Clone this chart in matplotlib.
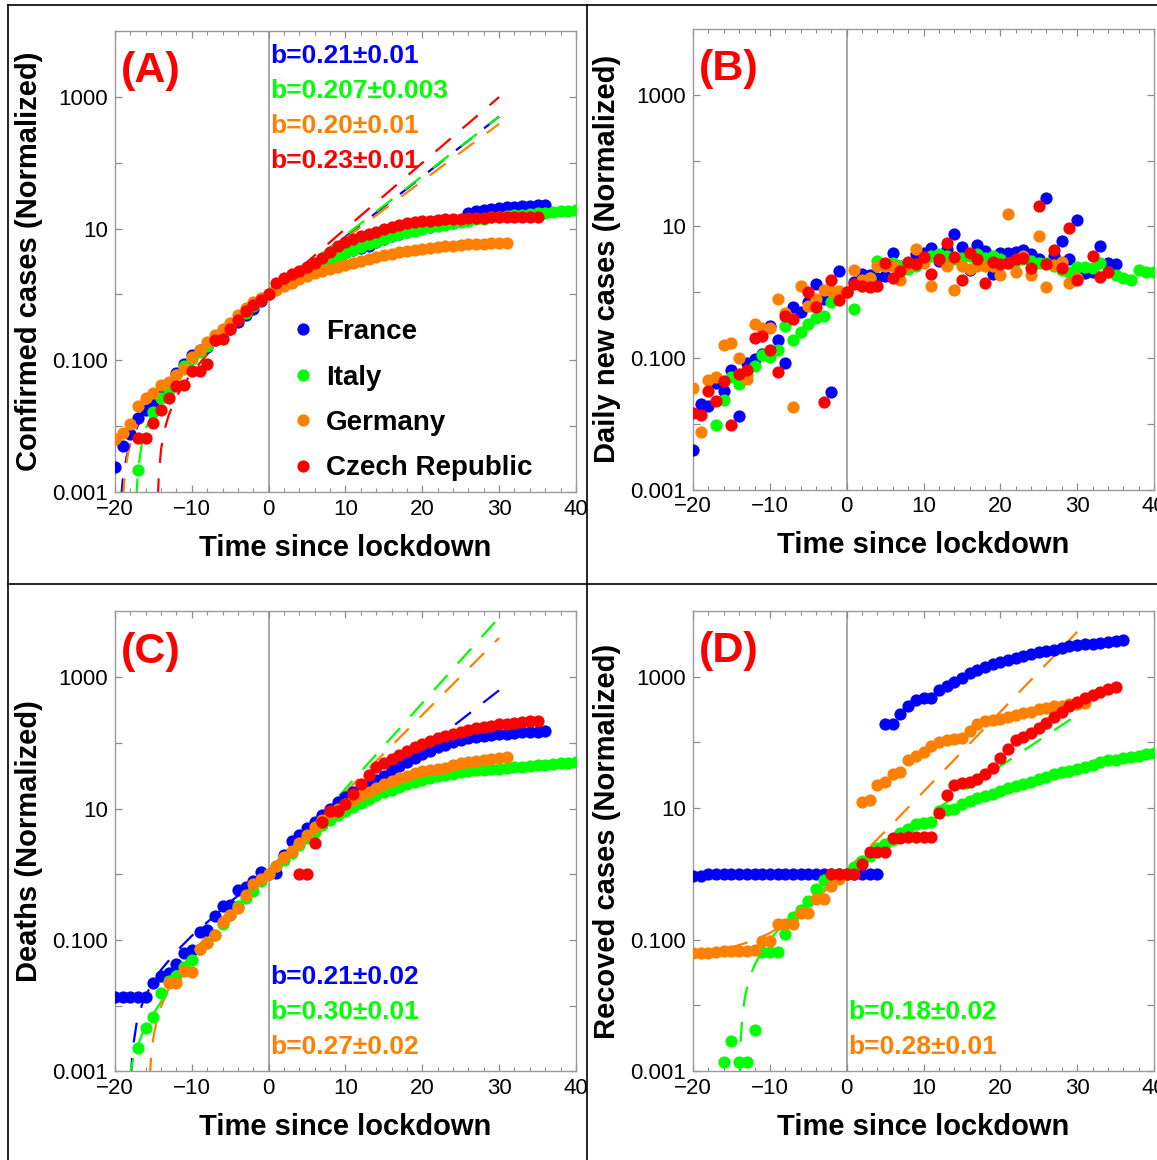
import numpy as np
import matplotlib
matplotlib.use("Agg")
import matplotlib.pyplot as plt
from matplotlib.lines import Line2D
from matplotlib.ticker import NullLocator, MultipleLocator

plt.rcParams['font.family'] = ['Liberation Sans', 'DejaVu Sans']

COUNTRIES = ["France", "Italy", "Germany", "Czech Republic"]
COLORS = {"France": "#0000ff", "Italy": "#00ff00", "Germany": "#ff8000", "Czech Republic": "#ff0000"}
DOT = 8.8

# All series: first day since lockdown, then log10 of the normalized value for each following day
# (nan = no point drawn that day)
nan = np.nan

# (A) confirmed cases
conf_fr_start, conf_fr = -20, [-2.62, -2.30, -2.12, -1.88, -1.76, -1.63, -1.51, -1.38, -1.20, -1.05,
                               -0.92, -0.85, -0.80, -0.70, -0.60, -0.53, -0.42, -0.32, -0.22, -0.10,
                               0.00, 0.10, 0.17, 0.24, 0.30, 0.36, 0.42, 0.48, 0.53, 0.58,
                               0.63, 0.67, 0.70, 0.74, 0.80, 0.84, 0.88, 0.92, 0.95, 0.98,
                               1.01, 1.03, 1.05, 1.07, 1.09, 1.12, 1.24, 1.26, 1.28, 1.30,
                               1.31, 1.32, 1.33, 1.34, 1.345, 1.35, 1.35]
conf_it_start, conf_it = -17, [-2.66, nan, -1.78, -1.58, -1.45, -1.22, -1.08, -0.98, -0.88, -0.78,
                               -0.68, -0.58, -0.49, -0.38, -0.28, -0.18, -0.09, 0.00, 0.10, 0.17,
                               0.23, 0.29, 0.35, 0.41, 0.47, 0.53, 0.58, 0.63, 0.68, 0.72,
                               0.76, 0.80, 0.84, 0.88, 0.91, 0.94, 0.97, 1.00, 1.02, 1.04,
                               1.06, 1.08, 1.10, 1.12, 1.14, 1.15, 1.17, 1.18, 1.19, 1.20,
                               1.21, 1.22, 1.23, 1.24, 1.25, 1.26, 1.27, 1.28]
conf_de_start, conf_de = -20, [-2.19, -2.10, -1.97, -1.70, -1.57, -1.49, -1.38, -1.33, -1.22, -1.13,
                               -0.95, -0.84, -0.73, -0.62, -0.53, -0.43, -0.31, -0.20, -0.11, -0.05,
                               0.00, 0.07, 0.13, 0.18, 0.23, 0.28, 0.32, 0.36, 0.39, 0.42,
                               0.45, 0.48, 0.51, 0.54, 0.57, 0.60, 0.62, 0.64, 0.66, 0.68,
                               0.69, 0.71, 0.72, 0.73, 0.74, 0.75, 0.76, 0.765, 0.77, 0.775,
                               0.78, 0.78]
conf_cz_start, conf_cz = -17, [-2.18, -2.18, -1.96, -1.76, -1.58, -1.39, -1.38, -1.17, -1.17, -1.05,
                               -0.70, -0.68, -0.52, -0.39, -0.25, -0.16, -0.08, 0.00, 0.17, 0.25,
                               0.31, 0.36, 0.42, 0.48, 0.56, 0.64, 0.74, 0.80, 0.84, 0.89,
                               0.92, 0.95, 1.00, 1.03, 1.06, 1.08, 1.10, 1.11, 1.12, 1.13,
                               1.14, 1.145, 1.15, 1.155, 1.16, 1.165, 1.17, 1.17, 1.175, 1.175,
                               1.18, 1.18, 1.18]

# (B) daily new cases
daily_fr_start, daily_fr = -20, [-2.40, -1.70, -1.73, -1.38, -1.50, -1.19, -1.88, -1.08, -1.02, -0.94,
                                 -0.52, -0.73, -1.08, -0.22, -0.30, -0.15, 0.13, -0.10, -1.52, 0.32,
                                 0.00, 0.16, 0.28, 0.26, 0.22, 0.25, 0.59, 0.40, 0.45, 0.58,
                                 0.60, 0.67, 0.48, 0.65, 0.88, 0.68, 0.33, 0.72, 0.62, 0.28,
                                 0.59, 0.60, 0.61, 0.64, 0.58, 0.51, 1.43, 0.55, 0.77, 0.50,
                                 1.09, 0.29, 0.30, 0.70, 0.45, 0.43]
daily_it_start, daily_it = -17, [-2.02, -1.64, -1.29, -1.40, -1.26, -1.13, -0.95, -0.98, -0.88, -0.52,
                                 -0.73, -0.60, -0.48, -0.39, -0.37, -0.15, -0.05, 0.00, -0.26, 0.10,
                                 0.22, 0.48, 0.42, 0.45, 0.40, 0.35, 0.40, 0.48, 0.55, 0.58,
                                 0.55, 0.50, 0.52, 0.55, 0.58, 0.52, 0.55, 0.50, 0.45, 0.48,
                                 0.50, 0.47, 0.45, 0.45, 0.40, 0.33, 0.30, 0.38, 0.38, 0.36,
                                 0.44, 0.31, 0.26, 0.22, 0.19, 0.33, 0.31, 0.30]
daily_de_start, daily_de = -20, [-1.46, -2.12, -1.33, -1.29, -0.80, -0.78, -1.00, -1.32, -0.49, -0.54,
                                 -0.55, -0.11, -0.32, -1.75, 0.10, -0.21, -0.10, 0.03, 0.01, 0.02,
                                 0.00, 0.34, 0.19, 0.22, 0.39, 0.39, 0.39, 0.19, 0.40, 0.66,
                                 0.44, 0.09, 0.50, 0.40, 0.04, 0.39, 0.35, 0.39, 0.39, 0.40,
                                 0.26, 1.19, 0.31, 0.555, 0.26, 0.85, 0.08, 0.42, 0.46, 0.14,
                                 0.22]
daily_cz_start, daily_cz = -20, [-1.84, -1.86, -1.51, -1.66, -1.35, -2.02, -1.25, -1.18, -0.70, -0.67,
                                 -0.88, -1.22, -0.36, -0.41, nan, 0.00, -0.23, -1.67, 0.19, -0.12,
                                 0.00, 0.13, 0.09, 0.08, 0.09, 0.45, 0.22, 0.32, 0.46, 0.43,
                                 0.53, 0.27, 0.50, 0.75, 0.53, 0.19, 0.60, 0.50, 0.14, 0.46,
                                 0.43, 0.44, 0.50, 0.52, 0.37, 1.31, 0.43, 0.64, 0.37, 0.97,
                                 0.18, nan, 0.55, 0.23, 0.30]

# (C) deaths
death_fr_start, death_fr = -20, [-1.86, -1.86, -1.86, -1.86, -1.86, -1.66, -1.54, -1.50, -1.36, -1.19,
                                 -1.15, -0.87, -0.85, -0.63, -0.48, -0.47, -0.24, -0.19, -0.10, 0.04,
                                 0.00, 0.02, 0.30, 0.51, 0.60, 0.70, 0.80, 0.90, 1.00, 1.10,
                                 1.18, 1.25, 1.31, 1.38, 1.44, 1.50, 1.59, 1.65, 1.71, 1.77,
                                 1.83, 1.88, 1.93, 1.97, 2.01, 2.04, 2.07, 2.09, 2.11, 2.12,
                                 2.13, 2.14, 2.15, 2.16, 2.17, 2.17, 2.18]
death_it_start, death_it = -17, [-2.65, -2.34, -2.17, -1.81, -1.62, -1.54, -1.41, -1.30, -1.14, -1.05,
                                 -0.92, -0.76, -0.62, -0.48, -0.36, -0.25, -0.10, 0.00, 0.12, 0.22,
                                 0.33, 0.44, 0.55, 0.65, 0.75, 0.83, 0.90, 0.97, 1.03, 1.09,
                                 1.15, 1.20, 1.25, 1.29, 1.33, 1.37, 1.41, 1.44, 1.47, 1.49,
                                 1.51, 1.53, 1.55, 1.57, 1.58, 1.59, 1.60, 1.61, 1.62, 1.63,
                                 1.64, 1.65, 1.66, 1.67, 1.68, 1.69, 1.70, 1.71]
death_de_start, death_de = -13, [-1.66, -1.66, -1.47, -1.48, -1.13, -1.04, -0.93, -0.73, -0.62, -0.51,
                                 -0.32, -0.15, -0.07, 0.00, 0.13, 0.26, 0.36, 0.47, 0.60, 0.72,
                                 0.83, 0.93, 1.00, 1.07, 1.13, 1.20, 1.26, 1.32, 1.37, 1.42,
                                 1.46, 1.50, 1.54, 1.57, 1.59, 1.60, 1.62, 1.66, 1.69, 1.71,
                                 1.72, 1.74, 1.75, 1.77, 1.78]
death_cz_start, death_cz = 4, [0.01, 0.01, 0.48, 0.80, 0.97, 0.97, 1.07, 1.22, 1.38, 1.51,
                               1.64, 1.69, 1.75, 1.81, 1.87, 1.93, 1.98, 2.03, 2.07, 2.10,
                               2.14, 2.17, 2.19, 2.22, 2.24, 2.26, 2.28, 2.29, 2.30, 2.32,
                               2.33, 2.34]

# (D) recovered cases
rec_fr_start, rec_fr = -20, [-0.04, -0.04, 0.00, 0.00, 0.00, 0.00, 0.00, 0.00, 0.00, 0.00,
                             0.00, 0.00, 0.00, 0.00, 0.00, 0.00, 0.00, 0.00, 0.00, 0.00,
                             0.00, 0.00, 0.00, 0.00, 0.00, 2.28, 2.28, 2.43, 2.55, 2.65,
                             2.68, 2.68, 2.79, 2.86, 2.92, 2.98, 3.05, 3.10, 3.15, 3.19,
                             3.23, 3.26, 3.29, 3.32, 3.35, 3.37, 3.39, 3.41, 3.44, 3.46,
                             3.48, 3.49, 3.50, 3.52, 3.53, 3.54, 3.56]
rec_it_start, rec_it = -16, [-2.86, -2.54, -2.86, -2.86, -2.37, -1.19, -1.19, -1.19, -0.92, -0.66,
                             -0.55, -0.42, -0.23, -0.10, -0.02, 0.00, 0.00, 0.10, 0.20, 0.27,
                             0.40, 0.46, 0.52, 0.62, 0.68, 0.76, 0.78, 0.79, 0.96, 0.97,
                             0.98, 1.07, 1.11, 1.15, 1.18, 1.22, 1.26, 1.30, 1.33, 1.36,
                             1.40, 1.45, 1.48, 1.52, 1.55, 1.57, 1.60, 1.63, 1.66, 1.70,
                             1.73, 1.74, 1.76, 1.78, 1.80, 1.82, 1.84]
rec_de_start, rec_de = -20, [-1.21, -1.21, -1.20, -1.19, -1.18, -1.18, -1.17, -1.17, -1.16, -1.02,
                             -1.02, -0.76, -0.76, -0.76, -0.60, -0.60, -0.38, -0.38, -0.18, -0.08,
                             0.00, nan, 1.10, 1.13, 1.35, 1.40, 1.52, 1.55, 1.73, 1.79,
                             1.86, 1.95, 2.00, 2.03, 2.05, 2.06, 2.18, 2.28, 2.32, 2.34,
                             2.36, 2.39, 2.41, 2.44, 2.47, 2.51, 2.53, 2.55, 2.56, 2.58,
                             2.59, 2.60]
rec_cz_start, rec_cz = -2, [0.00, 0.00, 0.00, 0.00, 0.15, 0.34, 0.34, 0.34, 0.55, 0.55,
                            0.56, 0.56, 0.56, 0.56, 0.93, 1.20, 1.35, 1.38, 1.40, 1.44,
                            1.52, 1.61, 1.76, 1.90, 2.03, 2.09, 2.15, 2.22, 2.30, 2.38,
                            2.47, 2.55, 2.62, 2.67, 2.72, 2.77, 2.81, 2.84]

# fitted exponentials (dashed): day, normalized value
fit_conf_fr_t = [-19.2, -19.0, -18.5, -18.0, -17.0, -16.0, -14.0, -12.0, -10.0, -5.0, 0, 10, 20, 30]
fit_conf_fr_y = [0.0008, 0.0015, 0.0034, 0.0055, 0.0104, 0.0165, 0.0331, 0.0585, 0.0972, 0.306, 0.905, 7.50, 61.4, 501]
fit_conf_it_t = [-17.24, -17.0, -16.5, -16.0, -15.0, -14.0, -12.0, -10.0, -5.0, 0, 10, 20, 30]
fit_conf_it_y = [0.0008, 0.0022, 0.0055, 0.0090, 0.0174, 0.0277, 0.0560, 0.0988, 0.328, 0.973, 7.90, 62.8, 498]
fit_conf_de_t = [-18.97, -18.7, -18.3, -18.0, -17.0, -16.0, -14.0, -12.0, -10.0, -5.0, 0, 10, 20, 30]
fit_conf_de_y = [0.0008, 0.0020, 0.0039, 0.0055, 0.0113, 0.0184, 0.0378, 0.0666, 0.1097, 0.334, 0.944, 7.13, 52.7, 389]
fit_conf_cz_t = [-14.42, -14.3, -14.0, -13.5, -13.0, -12.0, -11.0, -10.0, -8.0, -5.0, 0, 10, 20, 30]
fit_conf_cz_y = [0.0008, 0.0018, 0.0045, 0.0093, 0.0148, 0.0278, 0.0442, 0.0648, 0.1233, 0.281, 0.965, 9.94, 99.4, 992]

fit_death_fr_t = [-17.94, -17.7, -17.2, -16.5, -16.0, -15.0, -14.0, -12.0, -10.0, -5.0, 0, 10, 20, 30]
fit_death_fr_y = [0.0008, 0.0022, 0.0053, 0.0103, 0.0143, 0.0237, 0.0353, 0.0673, 0.116, 0.380, 1.134, 9.45, 77.4, 632]
fit_death_it_t = [-18.16, -18.0, -17.6, -17.2, -16.5, -16.0, -15.0, -14.0, -12.0, -10.0, -5.0, 0, 10, 20, 30]
fit_death_it_y = [0.0008, 0.0010, 0.0016, 0.0022, 0.0036, 0.0047, 0.0076, 0.0115, 0.0238, 0.0463, 0.2196, 0.9965, 20.1, 403, 8103]
fit_death_de_t = [-15.47, -15.3, -15.0, -14.6, -14.0, -13.0, -12.0, -10.0, -5.0, 0, 10, 20, 30]
fit_death_de_y = [0.0008, 0.0017, 0.0033, 0.0057, 0.0098, 0.0183, 0.0294, 0.0631, 0.293, 1.182, 17.9, 266, 3953]

fit_rec_it_t = [-13.91, -13.8, -13.6, -13.3, -13.0, -12.5, -12.0, -11.0, -10.0, -8.0, -5.0, 0, 10, 20, 30]
fit_rec_it_y = [0.0008, 0.0028, 0.0064, 0.0121, 0.0181, 0.0289, 0.0407, 0.0678, 0.1002, 0.1854, 0.387, 1.094, 7.10, 43.5, 263]
fit_rec_de_t = [-20, -15, -12, -10, -8, -5, -2, 0, 5, 10, 15, 20, 25, 30]
fit_rec_de_y = [0.064, 0.0762, 0.0975, 0.1257, 0.175, 0.326, 0.677, 1.14, 4.44, 17.8, 72.0, 292, 1184, 4803]

# growth rates quoted on the panels
conf_b = [("France", "b=0.21\u00b10.01"), ("Italy", "b=0.207\u00b10.003"),
          ("Germany", "b=0.20\u00b10.01"), ("Czech Republic", "b=0.23\u00b10.01")]
death_b = [("France", "b=0.21\u00b10.02"), ("Italy", "b=0.30\u00b10.01"), ("Germany", "b=0.27\u00b10.02")]
rec_b = [("Italy", "b=0.18\u00b10.02"), ("Germany", "b=0.28\u00b10.01")]

ytick_vals = [0.001, 0.01, 0.1, 1, 10, 100, 1000]
ytick_labels = ["0.001", "", "0.100", "", "10", "", "1000"]


def draw_panel(ax, series, fits, tag, ylabel, btexts, btext_y):
    ax.set_yscale("log")
    ax.axvline(0, color="#a0a0a0", lw=1.3, zorder=1)

    for name, t, y in fits:
        ax.plot(t, y, color=COLORS[name], lw=1.6, dashes=(9, 7), zorder=2)

    for name, start, logs in series:
        vals = 10.0 ** np.array(logs, dtype=float)
        days = np.arange(start, start + len(vals))
        ax.plot(days, vals, ls="none", marker="o", ms=DOT, mew=0,
                color=COLORS[name], zorder=3)

    ax.set_xlim(-20, 40)
    ax.set_ylim(1e-3, 1e4)
    ax.set_yticks(ytick_vals)
    ax.set_yticklabels(ytick_labels)
    ax.yaxis.set_minor_locator(NullLocator())
    ax.set_xticks([-20, -10, 0, 10, 20, 30, 40])
    ax.set_xticklabels(["\u221220", "\u221210", "0", "10", "20", "30", "40"])
    ax.xaxis.set_minor_locator(MultipleLocator(2))
    ax.tick_params(which="both", direction="in", top=True, right=True,
                   color="#8c8c8c", labelsize=16, pad=5)
    ax.tick_params(which="major", length=5, width=0.9)
    ax.tick_params(which="minor", length=3, width=0.8)
    for sp in ax.spines.values():
        sp.set_color("#9a9a9a")
        sp.set_linewidth(1.0)

    ax.set_xlabel("Time since lockdown", fontsize=21, fontweight="bold", labelpad=10)
    ax.set_ylabel(ylabel, fontsize=21, fontweight="bold", labelpad=7)

    ax.text(0.012, 0.889, tag, transform=ax.transAxes, color="#ff0000",
            fontsize=31, fontweight="bold", va="baseline", ha="left")
    for (name, txt), yy in zip(btexts, btext_y):
        ax.text(0.337, yy, txt, transform=ax.transAxes, color=COLORS[name],
                fontsize=19, fontweight="bold", va="baseline", ha="left")


fig = plt.figure(figsize=(11.57, 11.60), dpi=100)
ax_a = fig.add_axes([0.0994, 0.5759, 0.3984, 0.3974])
ax_b = fig.add_axes([0.5990, 0.5780, 0.3984, 0.3970])
ax_c = fig.add_axes([0.0994, 0.0763, 0.3984, 0.3966])
ax_d = fig.add_axes([0.5990, 0.0767, 0.3984, 0.3966])

draw_panel(ax_a,
           [("France", conf_fr_start, conf_fr), ("Italy", conf_it_start, conf_it),
            ("Germany", conf_de_start, conf_de), ("Czech Republic", conf_cz_start, conf_cz)],
           [("France", fit_conf_fr_t, fit_conf_fr_y), ("Italy", fit_conf_it_t, fit_conf_it_y),
            ("Germany", fit_conf_de_t, fit_conf_de_y), ("Czech Republic", fit_conf_cz_t, fit_conf_cz_y)],
           "(A)", "Confirmed cases (Normalized)", conf_b, [0.930, 0.855, 0.779, 0.703])

draw_panel(ax_b,
           [("France", daily_fr_start, daily_fr), ("Italy", daily_it_start, daily_it),
            ("Germany", daily_de_start, daily_de), ("Czech Republic", daily_cz_start, daily_cz)],
           [], "(B)", "Daily new cases (Normalized)", [], [])

draw_panel(ax_c,
           [("France", death_fr_start, death_fr), ("Italy", death_it_start, death_it),
            ("Germany", death_de_start, death_de), ("Czech Republic", death_cz_start, death_cz)],
           [("France", fit_death_fr_t, fit_death_fr_y), ("Italy", fit_death_it_t, fit_death_it_y),
            ("Germany", fit_death_de_t, fit_death_de_y)],
           "(C)", "Deaths (Normalized)", death_b, [0.191, 0.114, 0.038])

draw_panel(ax_d,
           [("France", rec_fr_start, rec_fr), ("Italy", rec_it_start, rec_it),
            ("Germany", rec_de_start, rec_de), ("Czech Republic", rec_cz_start, rec_cz)],
           [("Italy", fit_rec_it_t, fit_rec_it_y), ("Germany", fit_rec_de_t, fit_rec_de_y)],
           "(D)", "Recoved cases (Normalized)", rec_b, [0.113, 0.037])

# country legend in panel A
handles = [Line2D([], [], ls="none", marker="o", ms=DOT, mew=0, color=COLORS[c]) for c in COUNTRIES]
leg = ax_a.legend(handles, COUNTRIES, loc="upper left", bbox_to_anchor=(0.384, 0.375),
                  frameon=False, borderpad=0, borderaxespad=0, handlelength=0.8,
                  handletextpad=0.43, labelspacing=0.7,
                  prop={"size": 20, "weight": "bold"})

# frame lines around the four panels
line_kw = dict(transform=fig.transFigure, color="black", lw=1.2)
fig.add_artist(Line2D([0.0069, 1.0], [0.9957, 0.9957], **line_kw))
fig.add_artist(Line2D([0.0069, 0.0069], [0.0, 0.9957], **line_kw))
fig.add_artist(Line2D([0.5073, 0.5073], [0.0, 0.9957], **line_kw))
fig.add_artist(Line2D([0.0069, 1.0], [0.4966, 0.4966], **line_kw))

fig.savefig("out.png", dpi=100)
